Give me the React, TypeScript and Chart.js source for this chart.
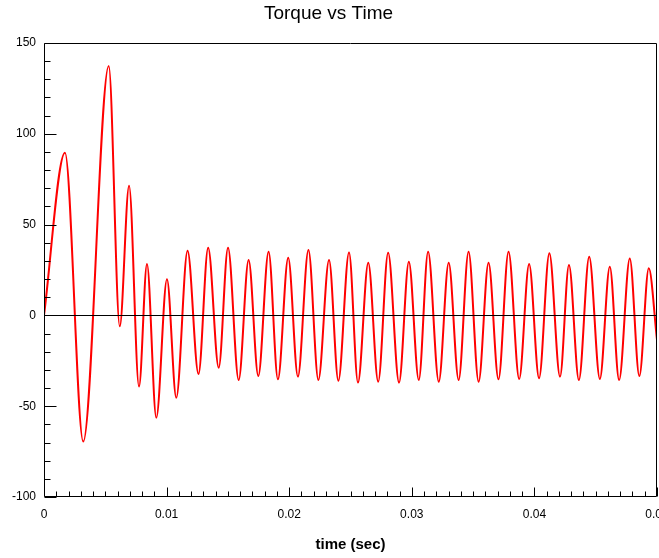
import React, { useEffect, useRef } from "react";
import { Chart, registerables } from "chart.js";

Chart.register(...registerables);

// Time (s) of each turning point of the torque trace
const timeSec: number[] = [
  0, 0.00171, 0.0032, 0.00528, 0.00618, 0.00694, 0.00775, 0.0084, 0.00916,
  0.01003, 0.01079, 0.01171, 0.0126, 0.01339, 0.01425, 0.01501, 0.01588,
  0.01669, 0.01748, 0.01832, 0.01908, 0.01992, 0.02071, 0.02157, 0.02238,
  0.02325, 0.02401, 0.02488, 0.02561, 0.02645, 0.02726, 0.02807, 0.02896,
  0.02976, 0.03057, 0.03133, 0.0322, 0.03301, 0.03382, 0.03463, 0.03545,
  0.03626, 0.03707, 0.03789, 0.03876, 0.03957, 0.04038, 0.04122, 0.04209,
  0.04282, 0.04363, 0.04447, 0.04534, 0.04615, 0.04691, 0.04778, 0.04856,
  0.04933, 0.05,
];

// Torque at those times
const torque: number[] = [
  0, 89.6, -69.5, 137.3, -6, 71.4, -39.2, 28.3, -56.3, 19.9, -45.3, 35.6,
  -32.3, 37.3, -28.8, 37.3, -35.6, 30.5, -33.4, 35.1, -35.2, 31.8, -33.7, 36.0,
  -35.6, 30.5, -36, 34.7, -37, 29.0, -36.5, 34.5, -37, 29.6, -35.6, 35.1,
  -36.5, 29.0, -35.6, 35.1, -36.5, 29.0, -35.2, 35.1, -35, 28.3, -34.6, 34.2,
  -33.7, 27.8, -35.6, 32.3, -35, 26.8, -35.6, 31.4, -33.4, 25.9, -13.5,
];

const xTickLabels: string[] = ["0", "0.01", "0.02", "0.03", "0.04", "0.05"];
const yTickLabels: string[] = ["-100", "-50", "0", "50", "100", "150"];

const X_MIN = 0;
const X_MAX = 0.05;
const X_MAJOR = 0.01;
const X_MINOR = 0.001;
const Y_MIN = -100;
const Y_MAX = 150;
const Y_MAJOR = 50;
const Y_MINOR = 10;

const FONT = "'Liberation Sans', Arial, sans-serif";

const framePlugin = {
  id: "frame",
  afterDraw(chart: any) {
    const { ctx, chartArea } = chart;
    const xs = chart.scales.x;
    const ys = chart.scales.y;
    const L = Math.round(chartArea.left) + 0.5;
    const R = Math.round(chartArea.right) - 0.5;
    const T = Math.round(chartArea.top) + 0.5;
    const B = Math.round(chartArea.bottom) - 0.5;
    ctx.save();
    ctx.strokeStyle = "#000";
    ctx.lineWidth = 1;
    ctx.beginPath();
    ctx.rect(L, T, R - L, B - T);
    // zero line
    const y0 = Math.round(ys.getPixelForValue(0)) + 0.5;
    ctx.moveTo(L, y0);
    ctx.lineTo(R, y0);
    // y ticks (inward)
    const ny = Math.round((Y_MAX - Y_MIN) / Y_MINOR);
    for (let i = 0; i <= ny; i++) {
      const v = Y_MIN + i * Y_MINOR;
      const major = Math.abs(v / Y_MAJOR - Math.round(v / Y_MAJOR)) < 1e-6;
      const py = Math.round(ys.getPixelForValue(v)) + 0.5;
      ctx.moveTo(L, py);
      ctx.lineTo(L + (major ? 12 : 6), py);
    }
    // x ticks (inward)
    const nx = Math.round((X_MAX - X_MIN) / X_MINOR);
    for (let i = 0; i <= nx; i++) {
      const v = X_MIN + i * X_MINOR;
      const major = i % Math.round(X_MAJOR / X_MINOR) === 0;
      const px = Math.round(xs.getPixelForValue(v)) + 0.5;
      ctx.moveTo(px, B);
      ctx.lineTo(px, B - (major ? 9 : 5));
    }
    ctx.stroke();
    ctx.restore();
  },
};

export default function App() {
  const canvasRef = useRef<HTMLCanvasElement | null>(null);

  useEffect(() => {
    document.body.style.margin = "0";
    const canvas = canvasRef.current;
    if (!canvas) return;
    const points = timeSec.map((t, i) => ({ x: t, y: torque[i] }));
    const chart = new Chart(canvas, {
      type: "line",
      data: {
        datasets: [
          {
            label: "Torque",
            data: points,
            borderColor: "#ff0000",
            backgroundColor: "#ff0000",
            borderWidth: 2,
            pointRadius: 0,
            cubicInterpolationMode: "monotone",
            fill: false,
          },
        ],
      },
      options: {
        responsive: false,
        animation: false,
        devicePixelRatio: 1,
        layout: { padding: { right: 2 }, autoPadding: false },
        plugins: {
          legend: { display: false },
          tooltip: { enabled: false },
          title: {
            display: true,
            text: "Torque vs Time",
            color: "#000",
            font: { family: FONT, size: 19, weight: "normal", lineHeight: 1.2 },
            padding: { top: 2, bottom: 18.2 },
          },
        },
        scales: {
          x: {
            type: "linear",
            min: X_MIN,
            max: X_MAX,
            grid: { display: false, drawTicks: false },
            border: { display: false },
            ticks: {
              stepSize: X_MAJOR,
              padding: 10,
              color: "#000",
              maxRotation: 0,
              autoSkip: false,
              font: { family: FONT, size: 12 },
              callback: (_v: any, i: number) => xTickLabels[i],
            },
            title: {
              display: true,
              text: "time (sec)",
              color: "#000",
              font: { family: FONT, size: 15, weight: "bold" },
              padding: { top: 0, bottom: 4 },
            },
            afterFit: (scale: any) => {
              scale.height = 61;
              scale.paddingLeft = 0;
              scale.paddingRight = 0;
            },
          },
          y: {
            type: "linear",
            min: Y_MIN,
            max: Y_MAX,
            grid: { display: false, drawTicks: false },
            border: { display: false },
            ticks: {
              stepSize: Y_MAJOR,
              padding: 8,
              color: "#000",
              font: { family: FONT, size: 12 },
              callback: (_v: any, i: number) => yTickLabels[i],
            },
            afterFit: (scale: any) => {
              scale.width = 44;
              scale.paddingTop = 0;
              scale.paddingBottom = 0;
            },
          },
        },
      },
      plugins: [framePlugin],
    });
    return () => chart.destroy();
  }, []);

  return (
    <div style={{ width: 659, height: 558, background: "#fff" }}>
      <canvas ref={canvasRef} width={659} height={558} style={{ display: "block" }} />
    </div>
  );
}
